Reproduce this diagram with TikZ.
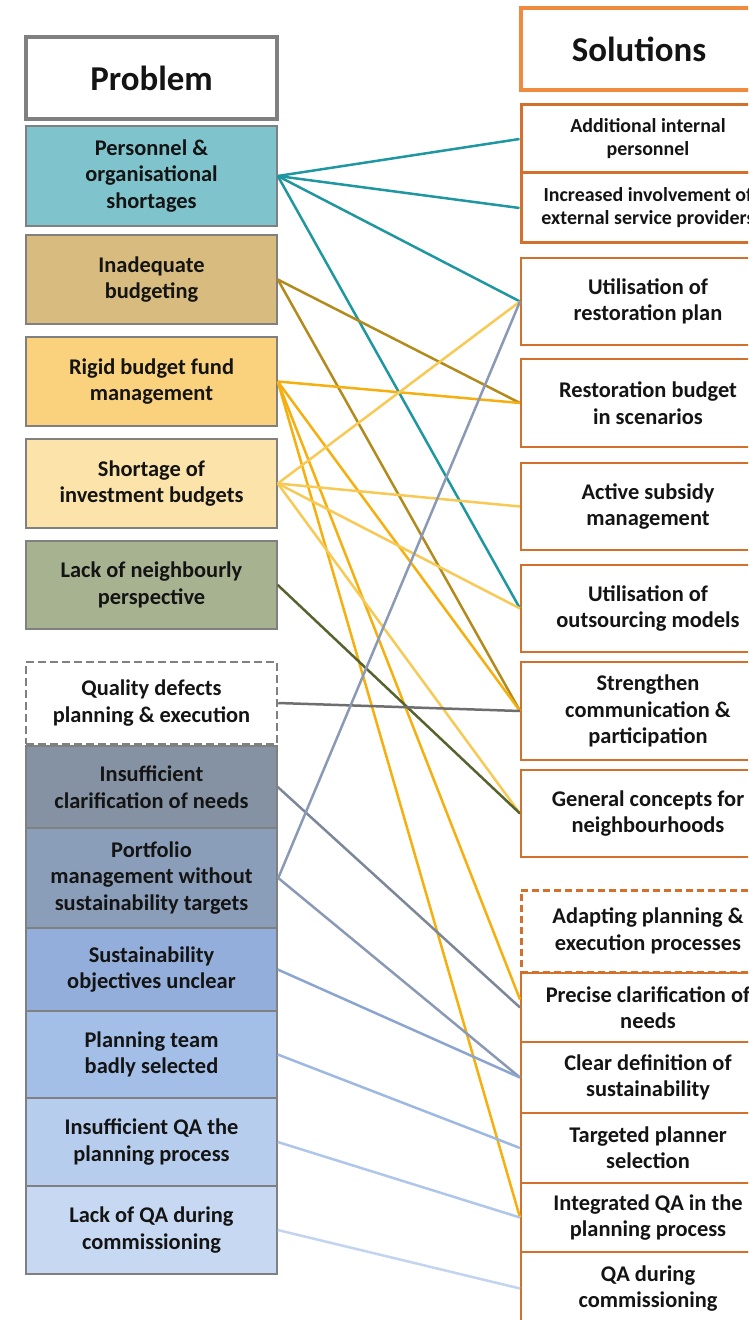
\documentclass[tikz,border=0pt]{standalone}
\usepackage{fontspec}
\setmainfont{Carlito}
\usepackage{tikz}

\definecolor{probline}{HTML}{808080}
\definecolor{solline}{HTML}{D2702C}
\definecolor{solhead}{HTML}{EF8A3E}
\definecolor{txt}{HTML}{141414}
% box fills
\definecolor{fpers}{HTML}{7FC4CC}
\definecolor{finad}{HTML}{D8BB7E}
\definecolor{frigid}{HTML}{FAD17D}
\definecolor{fshort}{HTML}{FCE3A9}
\definecolor{fneigh}{HTML}{A7B390}
\definecolor{fclar}{HTML}{8592A3}
\definecolor{fport}{HTML}{8A9DB9}
\definecolor{fsobj}{HTML}{93AEDA}
\definecolor{fteam}{HTML}{A3BFE7}
\definecolor{fiqa}{HTML}{B6CDEE}
\definecolor{flqa}{HTML}{C7D9F2}
% link colours
\definecolor{lpers}{HTML}{1F97A0}
\definecolor{linad}{HTML}{B38B1D}
\definecolor{lrigid}{HTML}{F5AF0F}
\definecolor{lshort}{HTML}{F8CA55}
\definecolor{lneigh}{HTML}{56632F}
\definecolor{lqual}{HTML}{6E6E6E}
\definecolor{lclar}{HTML}{7C8797}
\definecolor{lport}{HTML}{8A9AB5}
\definecolor{lsobj}{HTML}{8AA5D0}
\definecolor{lteam}{HTML}{9DB8E2}
\definecolor{liqa}{HTML}{AFC6EA}
\definecolor{llqa}{HTML}{C2D4EF}

\begin{document}
\begin{tikzpicture}[x=1bp,y=-1bp,
	prob/.style={draw=probline,line width=1.5bp,minimum width=251bp,inner sep=0pt,align=center,text=txt,font=\fontsize{22.5}{26.5}\selectfont\bfseries},
	sol/.style={draw=solline,line width=2bp,fill=white,minimum width=254bp,inner sep=0pt,align=center,text=txt,font=\fontsize{22.5}{26.5}\selectfont\bfseries},
	small/.style={font=\fontsize{20}{23}\selectfont\bfseries},
	head/.style={font=\fontsize{35}{40}\selectfont\bfseries,line width=3.5bp,fill=white},
	link/.style={line width=2.5bp}]
	\useasboundingbox (0,0) rectangle (748,1320);
	\clip (0,0) rectangle (748,1320);

	% problems
	\node (problem) [prob,head,minimum height=82bp] at (151.5,78) {Problem};
	\node (pers)  [prob,fill=fpers,minimum height=100bp] at (151.5,176) {Personnel \&\\organisational\\shortages};
	\node (inad)  [prob,fill=finad,minimum height=89bp] at (151.5,279.5) {Inadequate\\budgeting};
	\node (rigid) [prob,fill=frigid,minimum height=89bp] at (151.5,381.5) {Rigid budget fund\\management};
	\node (short) [prob,fill=fshort,minimum height=89bp] at (151.5,483.5) {Shortage of\\investment budgets};
	\node (neigh) [prob,fill=fneigh,minimum height=88bp] at (151.5,585) {Lack of neighbourly\\perspective};
	\node (qual)  [prob,fill=white,dashed,dash pattern=on 8bp off 4bp,line width=2.5bp,minimum height=82bp] at (151.5,703) {Quality defects\\planning \& execution};
	\node (clar)  [prob,fill=fclar,minimum height=82bp] at (151.5,787) {Insufficient\\clarification of needs};
	\node (port)  [prob,fill=fport,line width=2.5bp,minimum height=100bp] at (151.5,878) {Portfolio\\management without\\sustainability targets};
	\node (sobj)  [prob,fill=fsobj,minimum height=83bp] at (151.5,969.5) {Sustainability\\objectives unclear};
	\node (team)  [prob,fill=fteam,minimum height=87bp] at (151.5,1054.5) {Planning team\\badly selected};
	\node (iqa)   [prob,fill=fiqa,minimum height=88bp] at (151.5,1142) {Insufficient QA the\\planning process};
	\node (lqa)   [prob,fill=flqa,minimum height=88bp] at (151.5,1230) {Lack of QA during\\commissioning};

	% solutions
	\node (solutions) [sol,head,draw=solhead,minimum width=236bp,minimum height=82bp] at (639,49) {Solutions};
	\node (addp)   [sol,small,line width=3bp,minimum height=68bp] at (648,139) {Additional internal\\personnel};
	\node (extp)   [sol,small,line width=3bp,minimum height=70bp] at (648,208) {Increased involvement of\\external service providers};
	\node (rplan)  [sol,minimum height=87bp] at (648,301.5) {Utilisation of\\restoration plan};
	\node (rbud)   [sol,minimum height=88bp] at (648,403) {Restoration budget\\in scenarios};
	\node (subs)   [sol,minimum height=87bp] at (648,506.5) {Active subsidy\\management};
	\node (outs)   [sol,minimum height=87bp] at (648,608.5) {Utilisation of\\outsourcing models};
	\node (comm)   [sol,minimum height=98bp] at (648,711) {Strengthen\\communication \&\\participation};
	\node (neighc) [sol,minimum height=87bp] at (648,813.5) {General concepts for\\neighbourhoods};
	\node (adapt)  [sol,dashed,dash pattern=on 7bp off 4bp,line width=3bp,minimum height=82bp] at (648,931) {Adapting planning \&\\execution processes};
	\node (needs)  [sol,minimum height=69bp] at (648,1007.5) {Precise clarification of\\needs};
	\node (clear)  [sol,minimum height=71bp] at (648,1077.5) {Clear definition of\\sustainability};
	\node (target) [sol,minimum height=70bp] at (648,1148) {Targeted planner\\selection};
	\node (intqa)  [sol,minimum height=69bp] at (648,1217.5) {Integrated QA in the\\planning process};
	\node (qacom)  [sol,minimum height=73bp] at (648,1288.5) {QA during\\commissioning};

	% links problem -> solution
	\path[link,draw=lpers] (pers.east) edge (addp.west) edge (extp.west) edge (rplan.west) edge (outs.west);
	\path[link,draw=linad] (inad.east) edge (rbud.west) edge (comm.west);
	\path[link,draw=lrigid] (rigid.east) edge (rbud.west) edge (comm.west) edge ([yshift=8bp]needs.west) edge (intqa.west);
	\path[link,draw=lshort] (short.east) edge (rplan.west) edge (subs.west) edge (outs.west) edge (neighc.west);
	\path[link,draw=lneigh] (neigh.east) edge (neighc.west);
	\path[link,draw=lqual] (qual.east) edge (comm.west);
	\path[link,draw=lclar] (clar.east) edge (needs.west);
	\path[link,draw=lport] (port.east) edge (rplan.west) edge (clear.west);
	\path[link,draw=lsobj] (sobj.east) edge (clear.west);
	\path[link,draw=lteam] (team.east) edge (target.west);
	\path[link,draw=liqa] (iqa.east) edge (intqa.west);
	\path[link,draw=llqa] (lqa.east) edge (qacom.west);
\end{tikzpicture}
\end{document}
